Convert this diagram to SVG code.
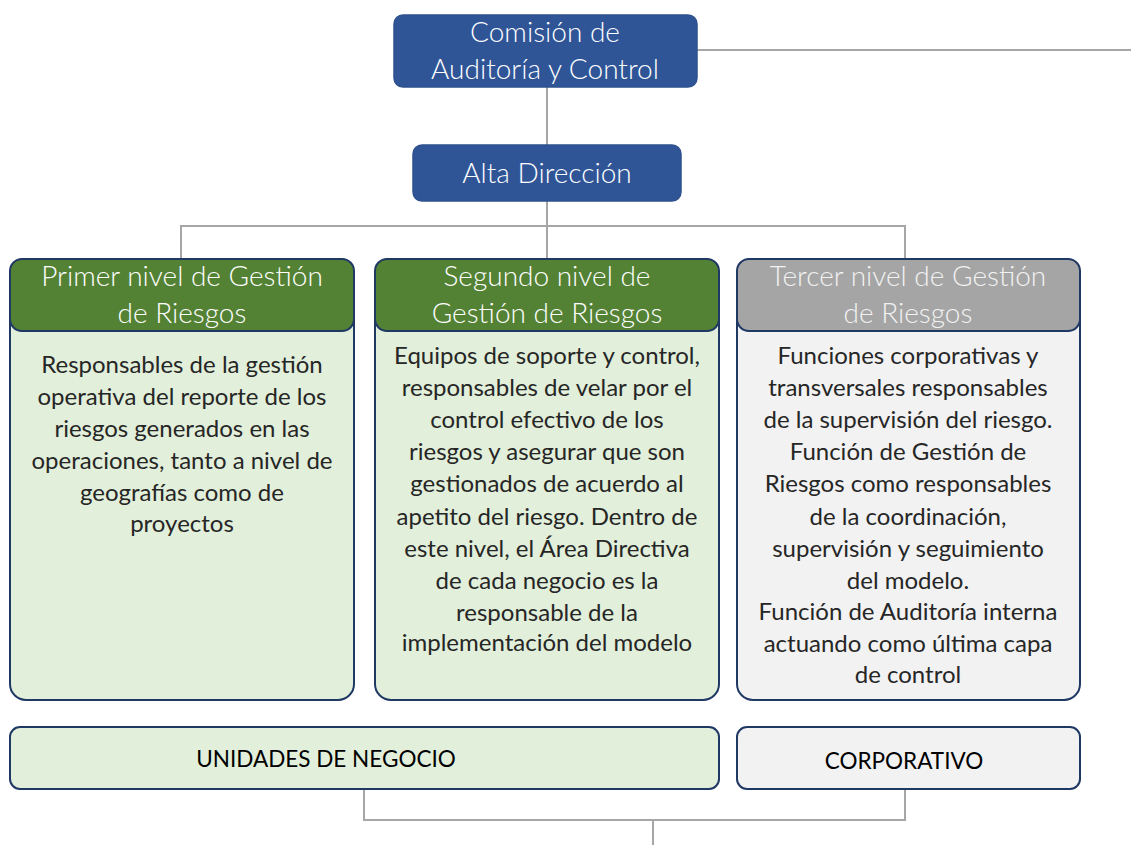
<svg xmlns="http://www.w3.org/2000/svg" width="1131" height="845" viewBox="0 0 1131 845">
<style>
.conn{fill:none;stroke:#A6A6A6;stroke-width:2}
.blue{fill:#2F5597;stroke:#2F528F;stroke-width:1.5}
.wt{fill:#FFFFFF;font-family:Lato,"Liberation Sans",sans-serif;text-anchor:middle;font-weight:300}
.hd{font-size:28px}
.bd{fill:#262626;font-family:Lato,"Liberation Sans",sans-serif;font-size:24px;text-anchor:middle}
.bodyG{fill:#E2EFDA;stroke:#203864;stroke-width:2}
.bodyW{fill:#F2F2F2;stroke:#203864;stroke-width:2}
.hG{fill:#548235;stroke:#203864;stroke-width:2}
.hW{fill:#A5A5A5;stroke:#203864;stroke-width:2}
.bt{fill:#000000;font-family:Lato,"Liberation Sans",sans-serif;font-size:22.5px;text-anchor:middle}
</style>
<rect width="1131" height="845" fill="#FFFFFF"/>
<g id="connectors">
<line class="conn" x1="697" y1="50" x2="1131" y2="50"/>
<line class="conn" x1="547" y1="87" x2="547" y2="145"/>
<line class="conn" x1="547" y1="201" x2="547" y2="259"/>
<polyline class="conn" points="181,259 181,226 905,226 905,259"/>
<polyline class="conn" points="364,789 364,820 905,820 905,789"/>
<line class="conn" x1="653" y1="820" x2="653" y2="845"/>
</g>
<g id="comision">
<rect class="blue" x="394" y="15" width="303" height="72" rx="9"/>
<text class="wt hd" x="545" y="42">Comisión de</text>
<text class="wt hd" x="545" y="79">Auditoría y Control</text>
</g>
<g id="alta">
<rect class="blue" x="413" y="145" width="268" height="56" rx="9"/>
<text class="wt hd" x="547" y="183">Alta Dirección</text>
</g>
<g id="nivel1">
<rect class="bodyG" x="10" y="259" width="344" height="441" rx="16"/>
<rect class="hG" x="10" y="259" width="344" height="72" rx="12"/>
<text class="wt hd" x="182" y="286">Primer nivel de Gestión</text>
<text class="wt hd" x="182" y="323">de Riesgos</text>
<text class="bd" x="182" y="373">Responsables de la gestión</text>
<text class="bd" x="182" y="405">operativa del reporte de los</text>
<text class="bd" x="182" y="437">riesgos generados en las</text>
<text class="bd" x="182" y="469">operaciones, tanto a nivel de</text>
<text class="bd" x="182" y="501">geografías como de</text>
<text class="bd" x="182" y="532">proyectos</text>
</g>
<g id="nivel2">
<rect class="bodyG" x="375" y="259" width="344" height="441" rx="16"/>
<rect class="hG" x="375" y="259" width="344" height="72" rx="12"/>
<text class="wt hd" x="547" y="286">Segundo nivel de</text>
<text class="wt hd" x="547" y="323">Gestión de Riesgos</text>
<text class="bd" x="547" y="364">Equipos de soporte y control,</text>
<text class="bd" x="547" y="396">responsables de velar por el</text>
<text class="bd" x="547" y="428">control efectivo de los</text>
<text class="bd" x="547" y="460">riesgos y asegurar que son</text>
<text class="bd" x="547" y="492">gestionados de acuerdo al</text>
<text class="bd" x="547" y="525">apetito del riesgo. Dentro de</text>
<text class="bd" x="547" y="557">este nivel, el Área Directiva</text>
<text class="bd" x="547" y="589">de cada negocio es la</text>
<text class="bd" x="547" y="621">responsable de la</text>
<text class="bd" x="547" y="651">implementación del modelo</text>
</g>
<g id="nivel3">
<rect class="bodyW" x="737" y="259" width="343" height="441" rx="16"/>
<rect class="hW" x="737" y="259" width="343" height="72" rx="12"/>
<text class="wt hd" x="908" y="286" style="fill:#F2F2F2">Tercer nivel de Gestión</text>
<text class="wt hd" x="908" y="323" style="fill:#F2F2F2">de Riesgos</text>
<text class="bd" x="908" y="364">Funciones corporativas y</text>
<text class="bd" x="908" y="396">transversales responsables</text>
<text class="bd" x="908" y="428">de la supervisión del riesgo.</text>
<text class="bd" x="908" y="460">Función de Gestión de</text>
<text class="bd" x="908" y="492">Riesgos como responsables</text>
<text class="bd" x="908" y="525">de la coordinación,</text>
<text class="bd" x="908" y="557">supervisión y seguimiento</text>
<text class="bd" x="908" y="589">del modelo.</text>
<text class="bd" x="908" y="620">Función de Auditoría interna</text>
<text class="bd" x="908" y="652">actuando como última capa</text>
<text class="bd" x="908" y="683">de control</text>
</g>
<g id="unidades">
<rect class="bodyG" x="10" y="727" width="709" height="62" rx="10"/>
<text class="bt" x="326" y="767">UNIDADES DE NEGOCIO</text>
</g>
<g id="corporativo">
<rect class="bodyW" x="737" y="727" width="343" height="62" rx="10"/>
<text class="bt" x="904" y="769">CORPORATIVO</text>
</g>
</svg>
